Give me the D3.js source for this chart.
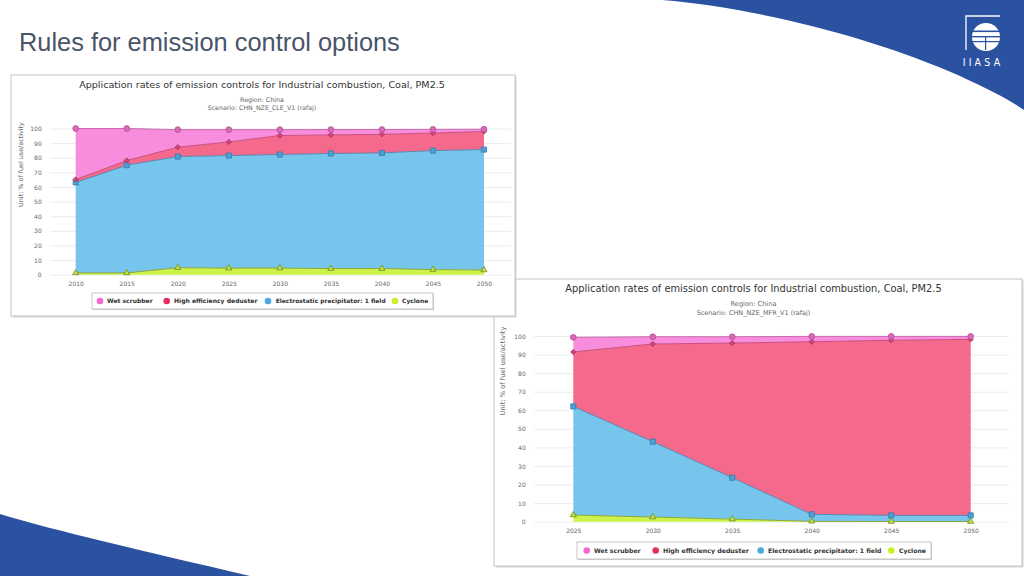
<!DOCTYPE html>
<html><head><meta charset="utf-8">
<script src="https://cdn.jsdelivr.net/npm/d3@7/dist/d3.min.js"></script>
<style>html,body{margin:0;padding:0;background:#fff;}svg{display:block;}</style>
</head><body>
<svg id="c" width="1024" height="576"></svg>
<script>
// ---------- DATA ----------
const seriesNames = ["Wet scrubber","High efficiency deduster","Electrostatic precipitator: 1 field","Cyclone"];
const yTicks = [0,10,20,30,40,50,60,70,80,90,100];

const leftYears = [2010,2015,2020,2025,2030,2035,2040,2045,2050];
const leftWetScrubber = [34.9,21.9,12.0,8.4,4.0,3.7,3.3,2.5,1.6];
const leftHighEff    = [2.0,3.2,6.4,9.3,13.0,12.7,12.7,12.0,12.3];
const leftESP        = [61.9,73.7,76.0,77.0,77.7,78.7,79.1,81.4,82.4];
const leftCyclone    = [1.2,1.2,4.8,4.5,4.5,4.2,4.2,3.5,3.2];

const rightYears = [2025,2030,2035,2040,2045,2050];
const rightWetScrubber = [7.9,3.9,3.4,2.9,2.1,1.6];
const rightHighEff     = [29.3,52.6,72.5,92.9,94.3,94.8];
const rightESP         = [58.5,40.6,22.3,3.8,3.3,3.3];
const rightCyclone     = [3.6,2.5,1.4,0.2,0.1,0.1];

const pageTitle = "Rules for emission control options";
const chartTitle = "Application rates of emission controls for Industrial combustion, Coal, PM2.5";
const regionLabel = "Region: China";
const leftScenario = "Scenario: CHN_NZE_CLE_V1 (rafaj)";
const rightScenario = "Scenario: CHN_NZE_MFR_V1 (rafaj)";
const yAxisLabel = "Unit: % of fuel use/activity";

// ---------- STYLE ----------
const styles = {
  "Wet scrubber":{fill:"#f78ddc",line:"#c86cae",mFill:"#d86ab8",mStroke:"#b0508f",legend:"#f46ad0",sym:d3.symbolCircle,size:26},
  "High efficiency deduster":{fill:"#f5698c",line:"#c8507c",mFill:"#d0457a",mStroke:"#a83560",legend:"#e8305e",sym:d3.symbolDiamond2,size:18},
  "Electrostatic precipitator: 1 field":{fill:"#76c5ec",line:"#5a88b0",mFill:"#4aa3d8",mStroke:"#3a78a8",legend:"#4aa8e2",sym:d3.symbolSquare,size:26},
  "Cyclone":{fill:"#cdf24a",line:"#8ca83a",mFill:"#c4e04a",mStroke:"#6e8c20",legend:"#ccef2a",sym:d3.symbolTriangle,size:16}
};
const FONT = "'DejaVu Sans', Verdana, sans-serif";
const svg = d3.select("#c");

function fitText(sel, w){
  let fs = parseFloat(sel.attr("font-size"));
  const len = sel.node().getComputedTextLength();
  if(len>0){ sel.attr("font-size", (fs*w/len).toFixed(2)); }
  return sel;
}

// ---------- BACKGROUND DECOR ----------
svg.append("path")
  .attr("d","M662,0 C760,8 880,40 960,76 C990,90 1010,100 1024,110 L1024,0 Z")
  .attr("fill","#2b52a0");
svg.append("path")
  .attr("d","M0,514 C60,532 140,550 250,576 L0,576 Z")
  .attr("fill","#2b52a0");

// IIASA logo
const logo = svg.append("g");
logo.append("path").attr("d","M966,50 L966,16 L1000,16").attr("fill","none").attr("stroke","#fff").attr("stroke-width",1.3);
logo.append("circle").attr("cx",986).attr("cy",37).attr("r",14).attr("fill","#fff");
[[30.5,1.6],[36,1.4],[41,1.2]].forEach(([y,h])=>{
  logo.append("rect").attr("x",971).attr("y",y).attr("width",30).attr("height",h).attr("fill","#2b52a0");
});
logo.append("rect").attr("x",985).attr("y",36).attr("width",1.2).attr("height",14).attr("fill","#2b52a0");
logo.append("text").attr("x",983).attr("y",66).attr("text-anchor","middle")
  .attr("font-family","'DejaVu Sans Condensed','DejaVu Sans',sans-serif").attr("font-size",10.5)
  .attr("letter-spacing",3.2).attr("fill","#fff").text("IIASA");

// page title
const pt = svg.append("text").attr("x",19).attr("y",51).attr("font-family","'Liberation Sans',Arial,sans-serif")
  .attr("font-size",24).attr("fill","#4a5468").text(pageTitle);
fitText(pt,381);

// ---------- CHART ----------
function drawChart(o){
  const g = svg.append("g");
  g.append("rect").attr("x",o.box[0]+1.5).attr("y",o.box[1]+1.5).attr("width",o.box[2]-o.box[0]).attr("height",o.box[3]-o.box[1])
    .attr("fill","#d8d8d8");
  g.append("rect").attr("x",o.box[0]).attr("y",o.box[1]).attr("width",o.box[2]-o.box[0]).attr("height",o.box[3]-o.box[1])
    .attr("fill","#fff").attr("stroke","#c4c4c4").attr("stroke-width",1);

  const x = d3.scaleLinear().domain(d3.extent(o.years)).range([o.px0,o.px1]);
  const y = d3.scaleLinear().domain([0,100]).range([o.py0,o.py1]);

  // gridlines
  g.append("g").selectAll("line").data(yTicks).join("line")
    .attr("x1",o.gx0).attr("x2",o.gx1).attr("y1",d=>y(d)+0.5).attr("y2",d=>y(d)+0.5)
    .attr("stroke","#ececec").attr("stroke-width",1);

  // y axis labels
  const yAxis = d3.axisLeft(y).tickValues(yTicks).tickSize(0).tickPadding(0);
  const ya = g.append("g").attr("transform",`translate(${o.ylx},0)`).call(yAxis);
  ya.select(".domain").remove();
  ya.selectAll("text").attr("font-family",FONT).attr("font-size",6).attr("fill","#666").attr("dy","0.35em");

  // x axis labels
  const xAxis = d3.axisBottom(x).tickValues(o.years).tickFormat(d3.format("d")).tickSize(0).tickPadding(0);
  const xa = g.append("g").attr("transform",`translate(0,${o.xly})`).call(xAxis);
  xa.select(".domain").remove();
  xa.selectAll("text").attr("font-family",FONT).attr("font-size",6).attr("fill","#666").attr("dy","0.35em");

  // stacked areas
  const rows = o.years.map((yr,i)=>({year:yr,
    "Wet scrubber":o.ws[i],"High efficiency deduster":o.hed[i],
    "Electrostatic precipitator: 1 field":o.esp[i],"Cyclone":o.cyc[i]}));
  const keys = seriesNames.slice().reverse();
  const stacked = d3.stack().keys(keys)(rows);
  const area = d3.area().x(d=>x(d.data.year)).y0(d=>y(d[0])).y1(d=>y(d[1]));
  const line = d3.line().x(d=>x(d.data.year)).y(d=>y(d[1]));
  g.append("g").selectAll("path").data(stacked).join("path")
    .attr("d",area).attr("fill",s=>styles[s.key].fill);
  g.append("g").selectAll("path").data(stacked).join("path")
    .attr("d",line).attr("fill","none").attr("stroke",s=>styles[s.key].line).attr("stroke-width",1);
  stacked.forEach(s=>{
    const st = styles[s.key];
    const sym = d3.symbol().type(st.sym).size(st.size);
    g.append("g").selectAll("path").data(s).join("path")
      .attr("transform",d=>`translate(${x(d.data.year)},${y(d[1])})`)
      .attr("d",sym).attr("fill",st.mFill).attr("stroke",st.mStroke).attr("stroke-width",0.8);
  });

  // titles
  const t = g.append("text").attr("x",o.tx).attr("y",o.ty).attr("text-anchor","middle")
    .attr("font-family",FONT).attr("font-size",11).attr("fill","#333").text(chartTitle);
  fitText(t,o.tw);
  const r = g.append("text").attr("x",o.tx).attr("y",o.sy1).attr("text-anchor","middle")
    .attr("font-family",FONT).attr("font-size",6).attr("fill","#666").text(regionLabel);
  fitText(r,o.rw);
  const sc = g.append("text").attr("x",o.tx).attr("y",o.sy2).attr("text-anchor","middle")
    .attr("font-family",FONT).attr("font-size",6).attr("fill","#666").text(o.scenario);
  fitText(sc,o.sw);

  // y axis title
  const yt = g.append("text").attr("transform",`translate(${o.ytx},${o.yty}) rotate(-90)`).attr("text-anchor","middle")
    .attr("font-family",FONT).attr("font-size",6).attr("fill","#666").text(yAxisLabel);
  fitText(yt,o.ytw);

  // legend
  g.append("rect").attr("x",o.lg[0]+1).attr("y",o.lg[1]+1).attr("width",o.lg[2]-o.lg[0]).attr("height",o.lg[3]-o.lg[1]).attr("fill","#d0d0d0");
  g.append("rect").attr("x",o.lg[0]).attr("y",o.lg[1]).attr("width",o.lg[2]-o.lg[0]).attr("height",o.lg[3]-o.lg[1])
    .attr("fill","#fff").attr("stroke","#b8b8b8").attr("stroke-width",0.8);
  const ly = (o.lg[1]+o.lg[3])/2;
  seriesNames.forEach((n,i)=>{
    g.append("circle").attr("cx",o.lcx[i]).attr("cy",ly).attr("r",3.3).attr("fill",styles[n].legend);
    const lt = g.append("text").attr("x",o.ltx[i]).attr("y",ly).attr("dy","0.35em")
      .attr("font-family",FONT).attr("font-weight","bold").attr("font-size",6).attr("fill","#333").text(n);
    fitText(lt,o.ltw[i]);
  });
}

drawChart({
  years:rightYears, ws:rightWetScrubber, hed:rightHighEff, esp:rightESP, cyc:rightCyclone,
  box:[494,279,1022,566], px0:573.3, px1:970.7, py0:521.7, py1:336,
  gx0:534, gx1:1009, ylx:525.7, xly:531,
  tx:753.5, ty:292, tw:377, sy1:306, sy2:315, rw:46, sw:114, scenario:rightScenario,
  ytx:505, yty:371, ytw:89,
  lg:[577,542,931,559], lcx:[586.7,655.7,760.7,891.3], ltx:[594,663,768,899], ltw:[46.7,86,113.7,27]
});
drawChart({
  years:leftYears, ws:leftWetScrubber, hed:leftHighEff, esp:leftESP, cyc:leftCyclone,
  box:[11,75,515,316], px0:75.7, px1:484, py0:274.7, py1:128.5,
  gx0:50, gx1:511, ylx:41.7, xly:284,
  tx:262, ty:88, tw:366, sy1:102, sy2:110, rw:44, sw:108.7, scenario:leftScenario,
  ytx:23, yty:164.5, ytw:85,
  lg:[92,293,433,309], lcx:[100,166.7,268,395], ltx:[107,174,275.7,402], ltw:[45.7,83.7,110,26.3]
});
</script>
</body></html>
